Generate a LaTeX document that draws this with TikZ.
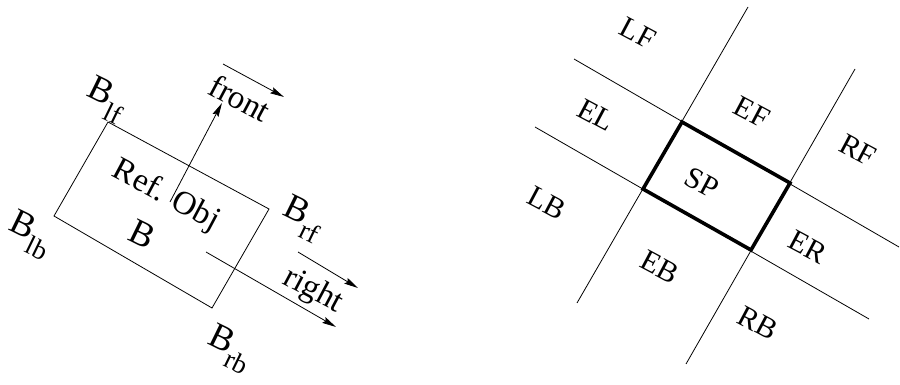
\documentclass[tikz,border=0pt]{standalone}
\usepackage{fontspec}
\setmainfont{Liberation Serif}
\usetikzlibrary{arrows.meta}
\newcommand{\sbig}[2]{#1\raisebox{-13pt}{\fontsize{27}{27}\selectfont #2}}
\begin{document}
\begin{tikzpicture}[x=1pt,y=-1pt,
  thinline/.style={line width=0.8pt},
  thickline/.style={line width=3.6pt, line join=miter},
  arr/.style={line width=0.8pt, -{Stealth[length=14pt,width=6.5pt,inset=2pt]}},
  biglab/.style={rotate=-26, inner sep=0pt, font=\fontsize{36}{36}\selectfont},
  midlab/.style={rotate=-28, inner sep=0pt, font=\fontsize{33}{33}\selectfont},
  reglab/.style={rotate=-28, inner sep=0pt, font=\fontsize{30}{30}\selectfont}]
\useasboundingbox (0,0) rectangle (900,385);
% ---------- left figure ----------
\coordinate (lf) at (108,122);
\coordinate (rf) at (269,209);
\coordinate (rb) at (212,308);
\coordinate (lb) at (54,216);
\draw[thinline] (lf) -- (rf) -- (rb) -- (lb) -- cycle;
\coordinate (fs) at (170,202);
\coordinate (fe) at (222,103);
\coordinate (fa1) at (223,64);
\coordinate (fa2) at (284,97);
\coordinate (rs) at (206,252);
\coordinate (re) at (336,327);
\coordinate (ra1) at (298,252);
\coordinate (ra2) at (358,288);
\draw[arr] (fs) -- (fe);
\draw[arr] (fa1) -- (fa2);
\draw[arr] (rs) -- (re);
\draw[arr] (ra1) -- (ra2);
\node[biglab] (Blf) at (106,100) {\sbig{B}{lf}};
\node[biglab] (Blb) at (30,235) {\sbig{B}{lb}};
\node[biglab] (Brb) at (230,349) {\sbig{B}{rb}};
\node[biglab] (Brf) at (303,219) {\sbig{B}{rf}};
\node[midlab] (ref) at (166,196) {Ref. Obj};
\node[biglab] (B) at (142,234) {B};
\node[midlab] (front) at (240,98) {front};
\node[midlab] (right) at (313,291) {right};
% ---------- right figure ----------
\coordinate (st) at (682,122);
\coordinate (sr) at (790,183);
\coordinate (sb) at (751,250);
\coordinate (sl) at (643,189);
\coordinate (a1) at (577,303); \coordinate (a2) at (748,7);
\coordinate (b1) at (686,364); \coordinate (b2) at (855,69);
\coordinate (c1) at (574,59);  \coordinate (c2) at (899,247);
\coordinate (d1) at (535,127); \coordinate (d2) at (869,319);
\draw[thinline] (a1) -- (a2);
\draw[thinline] (b1) -- (b2);
\draw[thinline] (c1) -- (c2);
\draw[thinline] (d1) -- (d2);
\draw[thickline] (st) -- (sr) -- (sb) -- (sl) -- cycle;
\node[reglab] (LF) at (638,33) {LF};
\node[reglab] (EL) at (596,115) {EL};
\node[reglab] (EF) at (752,112) {EF};
\node[reglab] (RF) at (858,150) {RF};
\node[reglab] (SP) at (702,183) {SP};
\node[reglab] (LB) at (547,203) {LB};
\node[reglab] (ER) at (808,247) {ER};
\node[reglab] (EB) at (660,267) {EB};
\node[reglab] (RB) at (758,323) {RB};
\end{tikzpicture}
\end{document}
